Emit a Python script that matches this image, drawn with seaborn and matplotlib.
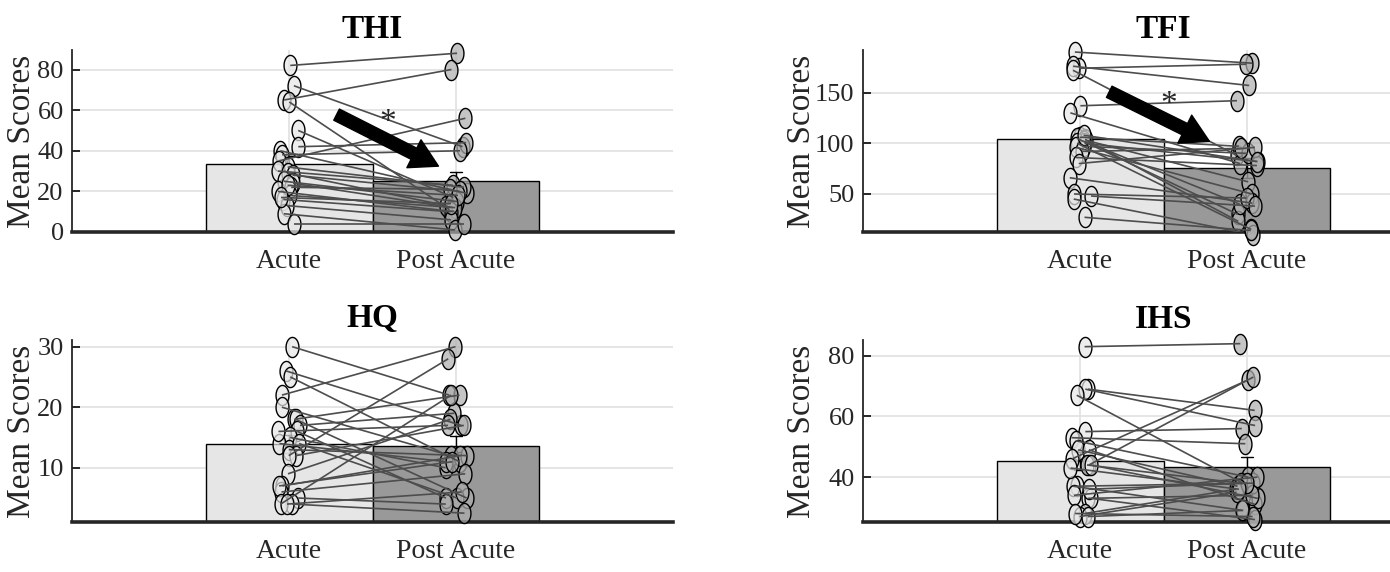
import numpy as np
import pandas as pd
import matplotlib
matplotlib.use("Agg")
import matplotlib.pyplot as plt
from matplotlib.path import Path
import seaborn as sns

conditions = ["Acute", "Post Acute"]

# Paired subject scores (same order in both lists = same subject)
thi_acute = [82, 72, 65, 64, 50, 42, 40, 38, 35, 32, 30, 29, 28, 25, 24, 22, 20, 18, 16, 13, 9, 4, 23, 17]
thi_post = [88, 42, 80, 11, 17, 44, 19, 40, 56, 22, 23, 13, 20, 15, 12, 21, 10, 12, 10, 6, 1, 4, 18, 14]

tfi_acute = [190, 174, 176, 172, 137, 130, 106, 105, 104, 103, 102, 100, 100, 97, 96, 92, 86, 80, 66, 50, 48, 45, 27, 108]
tfi_post = [179, 178, 157, 88, 142, 80, 97, 30, 23, 62, 40, 82, 15, 90, 50, 95, 78, 96, 41, 46, 38, 10, 14, 82]

hq_acute = [30, 26, 25, 22, 20, 18, 18, 17, 16, 15, 14, 13, 14, 12, 12, 9, 7, 6, 7, 5, 4, 4, 4, 16]
hq_post = [22, 17, 11, 30, 12, 22, 5, 19, 5, 10, 11, 12, 5, 17, 28, 18, 12, 9, 11, 4, 2.5, 22, 6, 17]

ihs_acute = [83, 69, 69, 67, 55, 53, 52, 49, 49, 46, 44, 44, 44, 37, 37, 34, 33, 33, 28, 27, 28, 27, 36, 43]
ihs_post = [84, 62, 57, 38, 56, 51, 40, 37, 31, 72, 73, 38, 33, 38, 29, 40, 34, 26, 36, 35, 27, 29, 38, 36]

titles = ["THI", "TFI", "HQ", "IHS"]
acute_scores = [thi_acute, tfi_acute, hq_acute, ihs_acute]
post_scores = [thi_post, tfi_post, hq_post, ihs_post]
yticks = [[0, 20, 40, 60, 80], [50, 100, 150], [10, 20, 30], [40, 60, 80]]
ylims = [(0, 89.6), (12.5, 192), (1.04, 31.1), (25.2, 85.2)]

sns.set_theme(style="white")
plt.rcParams["font.family"] = ["Liberation Serif", "DejaVu Serif"]

fig = plt.figure(figsize=(13.9, 5.72), dpi=100)

W, H = 1390, 572
ax_w, ax_h = 601 / W, 182 / H
positions = [
    (72 / W, 1 - 232 / H),
    (863 / W, 1 - 232 / H),
    (72 / W, 1 - 522 / H),
    (863 / W, 1 - 522 / H),
]
label_x = [-0.058, -0.077, -0.058, -0.077]

# circle marker squeezed horizontally
theta = np.linspace(0, 2 * np.pi, 61)
oval = Path(np.column_stack([0.64 * np.cos(theta), np.sin(theta)]))

bar_colors = ["#e6e6e6", "#999999"]
dot_faces = [(0.90, 0.90, 0.90, 0.7), (0.68, 0.68, 0.68, 0.7)]
text_color = "#262626"

np.random.seed(3)

for i in range(4):
    ax = fig.add_axes([positions[i][0], positions[i][1], ax_w, ax_h])
    a = acute_scores[i]
    p = post_scores[i]
    n = len(a)
    df = pd.DataFrame({
        "Condition": np.repeat(conditions, n),
        "Score": np.concatenate([a, p]).astype(float),
    })

    sns.barplot(data=df, x="Condition", y="Score", hue="Condition",
                palette=bar_colors, width=1.0, saturation=1,
                errorbar="se", capsize=0.07,
                err_kws={"color": "black", "linewidth": 1.0},
                edgecolor="black", linewidth=1.0, legend=False, ax=ax)

    n_before = len(ax.collections)
    sns.stripplot(data=df, x="Condition", y="Score", hue="Condition",
                  palette=bar_colors, jitter=0.07, size=14.5, marker=oval,
                  edgecolor="black", linewidth=1.0, legend=False, ax=ax,
                  zorder=3)
    cols = [c for c in ax.collections[n_before:] if len(c.get_offsets()) == n]
    cols.sort(key=lambda c: np.mean(c.get_offsets()[:, 0]))
    for c, fc in zip(cols, dot_faces):
        c.set_facecolor(fc)
        c.set_edgecolor("black")
        c.set_clip_on(False)

    xy_a = cols[0].get_offsets()
    xy_p = cols[1].get_offsets()
    for (x0, y0), (x1, y1) in zip(xy_a, xy_p):
        ax.plot([x0, x1], [y0, y1], color="#4d4d4d", lw=1.2, zorder=4,
                solid_capstyle="butt")

    ax.set_xlim(-1.3, 2.3)
    ax.set_ylim(*ylims[i])
    ax.set_yticks(yticks[i])
    ax.set_axisbelow(True)
    ax.grid(True, color="#e3e3e3", lw=1.3)

    sns.despine(ax=ax)
    ax.spines["left"].set_linewidth(1.3)
    ax.spines["left"].set_color(text_color)
    ax.spines["bottom"].set_linewidth(2.6)
    ax.spines["bottom"].set_color(text_color)

    ax.tick_params(axis="y", direction="in", length=6, width=1.4, pad=6,
                   labelsize=19, colors=text_color, left=True)
    ax.tick_params(axis="x", length=0, pad=12, labelsize=20, colors=text_color)
    ax.set_xlabel("")
    ax.set_ylabel("Mean Scores", fontsize=24, color=text_color)
    ax.yaxis.set_label_coords(label_x[i], 0.5)
    ax.set_title(titles[i], fontsize=24, fontweight="bold", color="black", pad=9)

    if titles[i] == "THI":
        ax.annotate("", xy=(0.91, 31.8), xytext=(0.27, 58.4),
                    arrowprops=dict(arrowstyle="simple,head_length=1.1,head_width=1.25,tail_width=0.5",
                                    fc="black", ec="black", mutation_scale=18),
                    zorder=5)
        ax.text(0.59, 54, "*", ha="center", va="center", fontsize=24, zorder=5)
    if titles[i] == "TFI":
        ax.annotate("", xy=(0.79, 100.7), xytext=(0.16, 152),
                    arrowprops=dict(arrowstyle="simple,head_length=1.1,head_width=1.25,tail_width=0.5",
                                    fc="black", ec="black", mutation_scale=18),
                    zorder=5)
        ax.text(0.53, 138, "*", ha="center", va="center", fontsize=24, zorder=5)

fig.savefig("out.png", dpi=100)
